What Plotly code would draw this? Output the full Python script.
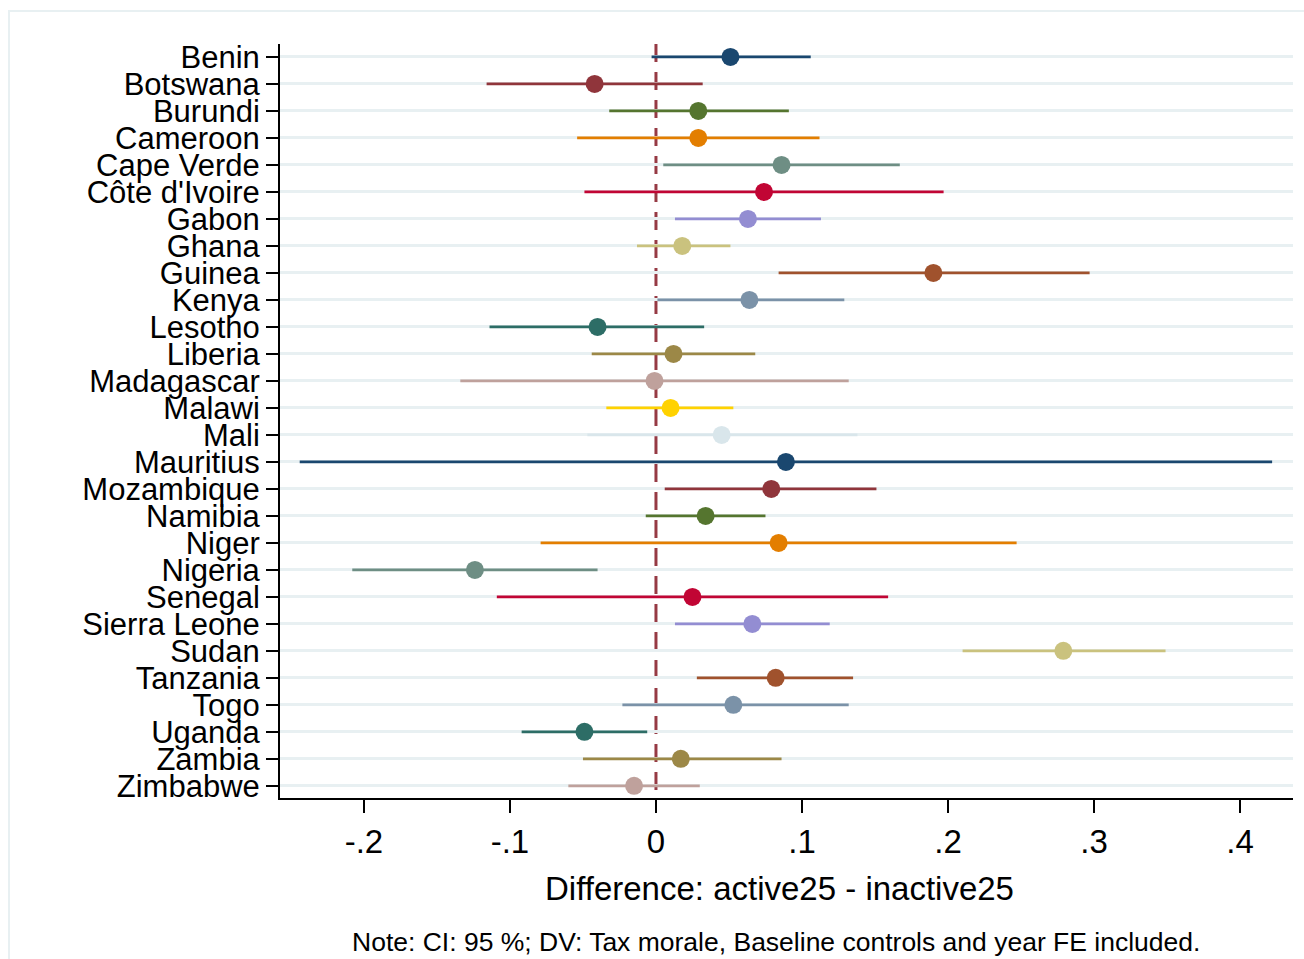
import plotly.graph_objects as go

countries = ["Benin", "Botswana", "Burundi", "Cameroon", "Cape Verde", "Côte d'Ivoire",
             "Gabon", "Ghana", "Guinea", "Kenya", "Lesotho", "Liberia", "Madagascar",
             "Malawi", "Mali", "Mauritius", "Mozambique", "Namibia", "Niger", "Nigeria",
             "Senegal", "Sierra Leone", "Sudan", "Tanzania", "Togo", "Uganda", "Zambia",
             "Zimbabwe"]
estimate = [0.051, -0.042, 0.029, 0.029, 0.086, 0.074, 0.063, 0.018, 0.190, 0.064,
            -0.040, 0.012, -0.001, 0.010, 0.045, 0.089, 0.079, 0.034, 0.084, -0.124,
            0.025, 0.066, 0.279, 0.082, 0.053, -0.049, 0.017, -0.015]
ci_low = [-0.003, -0.116, -0.032, -0.054, 0.005, -0.049, 0.013, -0.013, 0.084, 0.001,
          -0.114, -0.044, -0.134, -0.034, -0.047, -0.244, 0.006, -0.007, -0.079, -0.208,
          -0.109, 0.013, 0.210, 0.028, -0.023, -0.092, -0.050, -0.060]
ci_high = [0.106, 0.032, 0.091, 0.112, 0.167, 0.197, 0.113, 0.051, 0.297, 0.129,
           0.033, 0.068, 0.132, 0.053, 0.138, 0.422, 0.151, 0.075, 0.247, -0.040,
           0.159, 0.119, 0.349, 0.135, 0.132, -0.006, 0.086, 0.030]
palette = ["#1a476f", "#90353b", "#55752f", "#e37e00", "#6e8e84", "#c10534", "#938dd2",
           "#cac27e", "#a0522d", "#7b92a8", "#2d6d66", "#9c8847", "#bfa19c", "#ffd200",
           "#d9e6eb"]
tick_vals = [-0.2, -0.1, 0, 0.1, 0.2, 0.3, 0.4]
tick_text = ["-.2", "-.1", "0", ".1", ".2", ".3", ".4"]
x_title = "Difference: active25 - inactive25"
note = "Note: CI: 95 %; DV: Tax morale, Baseline controls and year FE included."

FONT = "Liberation Sans, Arial, Helvetica, sans-serif"

fig = go.Figure()
for i, c in enumerate(countries):
    col = palette[i % len(palette)]
    fig.add_trace(go.Scatter(
        x=[estimate[i]], y=[c], mode="markers",
        marker=dict(size=18, color=col, line=dict(width=0)),
        error_x=dict(type="data", symmetric=False,
                     array=[ci_high[i] - estimate[i]],
                     arrayminus=[estimate[i] - ci_low[i]],
                     color=col, thickness=2.8, width=0),
        showlegend=False, cliponaxis=False,
    ))

fig.add_shape(type="line", xref="x", yref="paper", x0=0, x1=0, y0=1, y1=0,
              line=dict(color="#963a44", width=3, dash="18px,10px"), layer="between")

# outer graph region border
fig.add_shape(type="rect", xref="paper", yref="paper",
              x0=(9 - 280) / 1013, x1=(1320 - 280) / 1013,
              y0=(798 - 975) / 754, y1=(798 - 11) / 754,
              line=dict(color="#e8f0f2", width=2), fillcolor="rgba(0,0,0,0)", layer="below")

fig.add_annotation(text=x_title, xref="paper", yref="paper",
                   x=(779 - 280) / 1013, y=(798 - 889) / 754, showarrow=False,
                   xanchor="center", yanchor="middle",
                   font=dict(family=FONT, size=33, color="black"))
fig.add_annotation(text=note, xref="paper", yref="paper",
                   x=(776 - 280) / 1013, y=(798 - 942) / 754, showarrow=False,
                   xanchor="center", yanchor="middle",
                   font=dict(family=FONT, size=26.5, color="black"))

fig.update_layout(
    width=1304, height=959,
    margin=dict(l=280, r=11, t=44, b=161),
    paper_bgcolor="white", plot_bgcolor="white",
    font=dict(family=FONT, color="black"),
    xaxis=dict(range=[-0.2575, 0.4363], tickvals=tick_vals, ticktext=tick_text,
               showgrid=False, zeroline=False, showline=True, linecolor="black",
               linewidth=2, ticks="outside", ticklen=13, tickwidth=2,
               tickcolor="black", tickfont=dict(family=FONT, size=33)),
    yaxis=dict(type="category", categoryorder="array", categoryarray=countries,
               tickmode="array", tickvals=countries, ticktext=countries,
               range=[27.45, -0.48], showgrid=True, gridcolor="#e8f0f2", gridwidth=2.5,
               zeroline=False, showline=True, linecolor="black", linewidth=2,
               ticks="outside", ticklen=12, tickwidth=2, tickcolor="black",
               tickfont=dict(family=FONT, size=31)),
)

fig.write_html("out.html", config={"displayModeBar": False},
               post_script="document.body.style.margin='0';")
